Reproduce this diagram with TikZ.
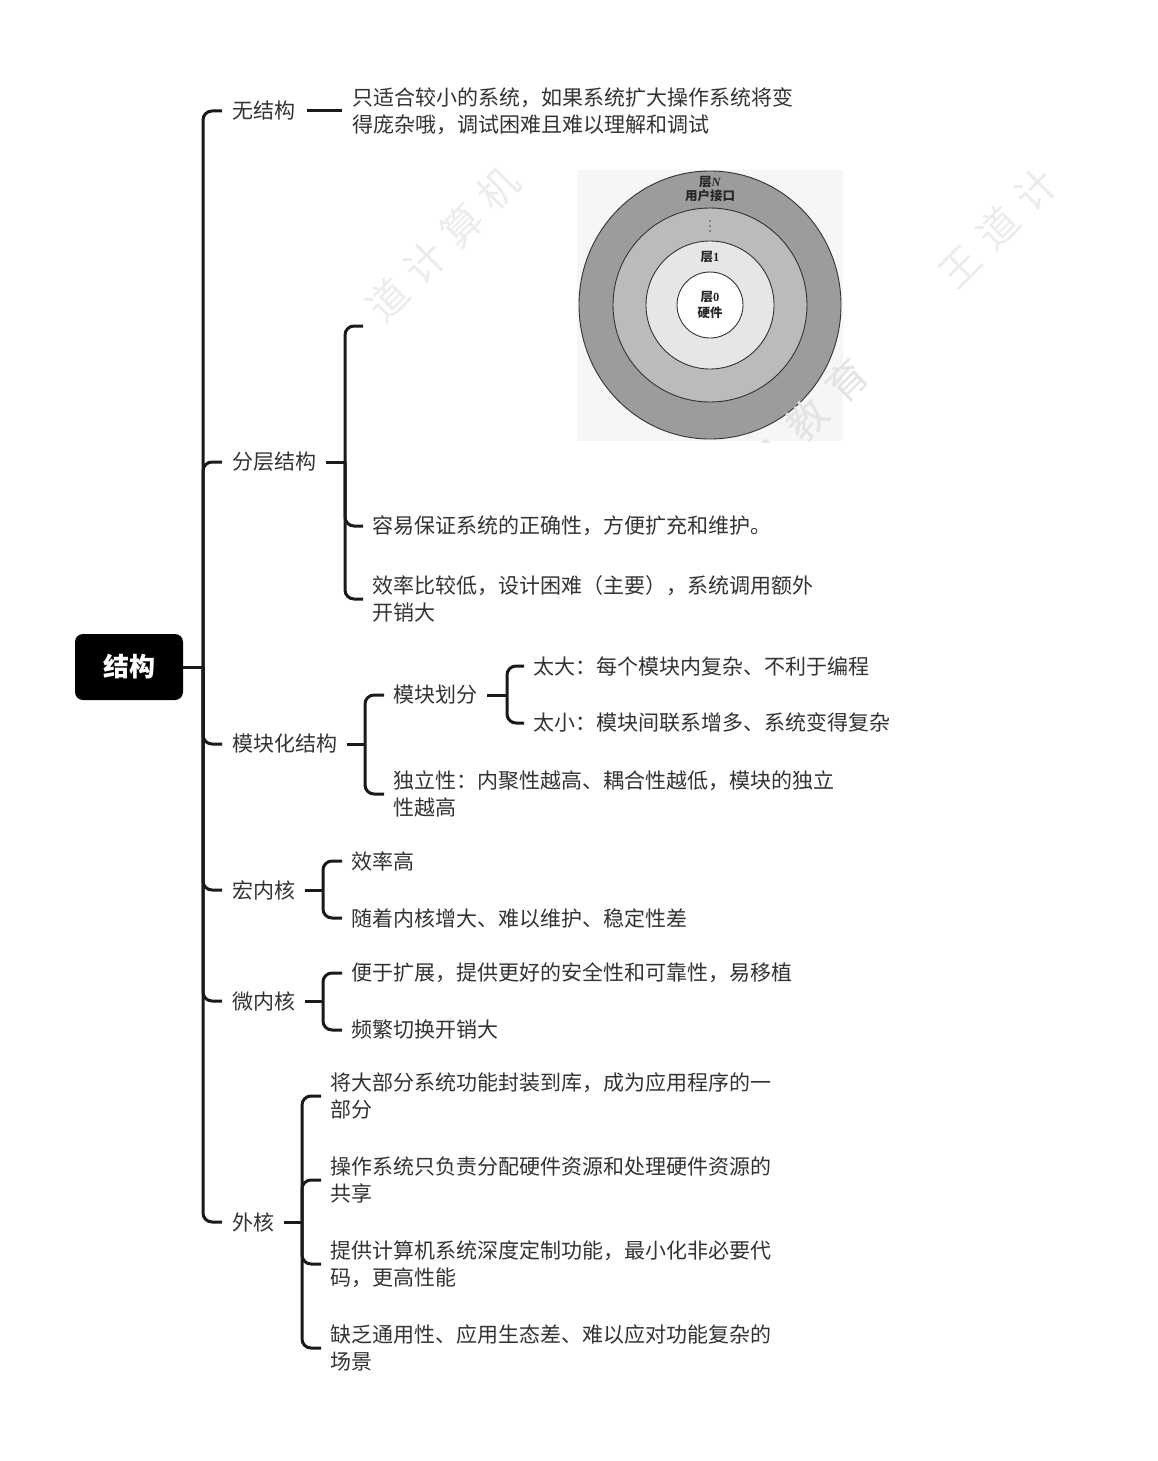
\documentclass[tikz,border=0pt]{standalone}
\usepackage{fontspec}
\setmainfont{Noto Sans CJK SC}
\newfontfamily\serifnum{Liberation Serif}
\definecolor{txtc}{HTML}{333333}
\definecolor{linec}{HTML}{1A1A1A}
\definecolor{ringA}{HTML}{9C9C9C}
\definecolor{ringB}{HTML}{BBBBBB}
\definecolor{ringC}{HTML}{E6E6E6}
\definecolor{imgbg}{HTML}{F6F6F6}
\definecolor{wmc}{HTML}{ECECEC}
\tikzset{
  txt/.style={anchor=west, inner sep=0pt, font=\fontsize{21}{27}\selectfont, text=txtc, align=left},
  conn/.style={draw=linec, line width=3pt, rounded corners=9pt},
  rootbox/.style={fill=black, rounded corners=8pt, minimum width=108pt, minimum height=66pt, inner sep=0pt, text=white, font=\fontsize{26}{30}\selectfont\bfseries},
  ringline/.style={draw=black!80, line width=0.9pt},
  imgtxt/.style={inner sep=0pt, font=\fontsize{12.5}{14}\selectfont\bfseries, text=black!85},
  wm/.style={inner sep=0pt, rotate=45, text=wmc, font=\fontsize{40}{40}\selectfont},
}
\begin{document}
\begin{tikzpicture}[x=1pt,y=-1pt]
\useasboundingbox (0,0) rectangle (1158,1461);
\fill[white] (0,0) rectangle (1158,1461);

% watermark behind
\begin{scope}
\clip (360,165) rectangle (1158,600);
\node[wm] (wa) at (443,244) {道\hspace{12pt}计\hspace{12pt}算\hspace{12pt}机};
\node[wm] (wb) at (998,228) {王\hspace{14pt}道\hspace{14pt}计};
\end{scope}

% root
\node[rootbox] (root) at (129,667) {结构};
\coordinate (trunk) at (203,667);
\draw[conn] (root.east) -- (trunk);

% level 1
\node[txt] (n1) at (232,111) {无结构};
\node[txt] (n2) at (232,462) {分层结构};
\node[txt] (n3) at (232,744) {模块化结构};
\node[txt] (n4) at (232,890) {宏内核};
\node[txt] (n5) at (232,1001) {微内核};
\node[txt] (n6) at (232,1222) {外核};
\foreach \n in {n1,n2,n3,n4,n5,n6}{
  \draw[conn] (trunk) |- ([xshift=-10pt]\n.west);
}

% 无结构
\node[txt] (d1) at (352,111) {只适合较小的系统，如果系统扩大操作系统将变\\得庞杂哦，调试困难且难以理解和调试};
\draw[conn] ([xshift=12pt]n1.east) -- ([xshift=-10pt]d1.west);

% 分层结构
\coordinate (b2) at (345,462);
\coordinate (imgtopic) at (372,326);
\node[txt] (c22) at (372,526) {容易保证系统的正确性，方便扩充和维护。};
\node[txt] (c23) at (372,599) {效率比较低，设计困难（主要），系统调用额外\\开销大};
\draw[conn] ([xshift=10pt]n2.east) -- (b2);
\draw[conn] (b2) |- ([xshift=-9pt]imgtopic);
\draw[conn] (b2) |- ([xshift=-9pt]c22.west);
\draw[conn] (b2) |- ([xshift=-9pt]c23.west);

% layered image
\fill[imgbg] (577,170) rectangle (843,441);
\filldraw[ringline, fill=ringA] (710,305) ellipse [x radius=131, y radius=134];
\filldraw[ringline, fill=ringB] (710,305) circle [radius=97];
\filldraw[ringline, fill=ringC] (710,305) circle [radius=64];
\filldraw[ringline, fill=white] (710,305) circle [radius=33];
\node[imgtxt] (lN) at (710,182) {层{\serifnum\itshape N}};
\node[imgtxt] (lUI) at (710,196) {用户接口};
\foreach \yy in {221,226,231}{\fill[black!70] (710,\yy) circle [radius=0.8];}
\node[imgtxt] (l1) at (710,257) {层{\serifnum 1}};
\node[imgtxt] (l0) at (710,297) {层{\serifnum 0}};
\node[imgtxt] (hw) at (710,313) {硬件};
\begin{scope}
\clip (700,300) rectangle (900,442);
\node[wm, text=black!11] (wc) at (807,420) {机\hspace{16pt}教\hspace{16pt}育};
\end{scope}

% 模块化结构
\coordinate (b3) at (365,744);
\node[txt] (m1) at (393,695) {模块划分};
\node[txt] (m2) at (393,794) {独立性：内聚性越高、耦合性越低，模块的独立\\性越高};
\draw[conn] ([xshift=10pt]n3.east) -- (b3);
\draw[conn] (b3) |- ([xshift=-9pt]m1.west);
\draw[conn] (b3) |- ([xshift=-9pt]m2.west);
\coordinate (b31) at (507,695);
\node[txt] (t1) at (533,666) {太大：每个模块内复杂、不利于编程};
\node[txt] (t2) at (533,723) {太小：模块间联系增多、系统变得复杂};
\draw[conn] ([xshift=10pt]m1.east) -- (b31);
\draw[conn] (b31) |- ([xshift=-9pt]t1.west);
\draw[conn] (b31) |- ([xshift=-9pt]t2.west);

% 宏内核
\coordinate (b4) at (323,890);
\node[txt] (k1) at (351,861) {效率高};
\node[txt] (k2) at (351,918) {随着内核增大、难以维护、稳定性差};
\draw[conn] ([xshift=10pt]n4.east) -- (b4);
\draw[conn] (b4) |- ([xshift=-9pt]k1.west);
\draw[conn] (b4) |- ([xshift=-9pt]k2.west);

% 微内核
\coordinate (b5) at (323,1001);
\node[txt] (w1) at (351,973) {便于扩展，提供更好的安全性和可靠性，易移植};
\node[txt] (w2) at (351,1030) {频繁切换开销大};
\draw[conn] ([xshift=10pt]n5.east) -- (b5);
\draw[conn] (b5) |- ([xshift=-9pt]w1.west);
\draw[conn] (b5) |- ([xshift=-9pt]w2.west);

% 外核
\coordinate (b6) at (302,1222);
\node[txt] (e1) at (330,1096) {将大部分系统功能封装到库，成为应用程序的一\\部分};
\node[txt] (e2) at (330,1180) {操作系统只负责分配硬件资源和处理硬件资源的\\共享};
\node[txt] (e3) at (330,1264) {提供计算机系统深度定制功能，最小化非必要代\\码，更高性能};
\node[txt] (e4) at (330,1348) {缺乏通用性、应用生态差、难以应对功能复杂的\\场景};
\draw[conn] ([xshift=10pt]n6.east) -- (b6);
\foreach \e in {e1,e2,e3,e4}{
  \draw[conn] (b6) |- ([xshift=-9pt]\e.west);
}
\end{tikzpicture}
\end{document}
